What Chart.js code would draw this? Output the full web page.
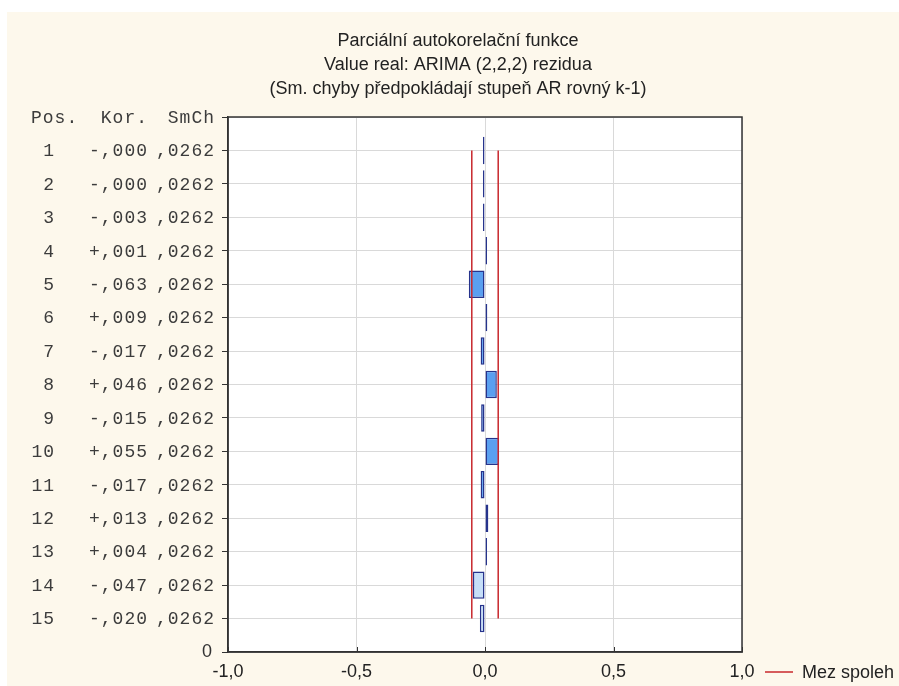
<!DOCTYPE html>
<html>
<head>
<meta charset="utf-8">
<script src="https://cdn.jsdelivr.net/npm/chart.js@4.4.1/dist/chart.umd.min.js"></script>
<style>
	html, body { margin: 0; padding: 0; background: #fff; }
	#wrap { width: 899px; height: 686px; }
</style>
</head>
<body>
<div id="wrap"><canvas id="pacf" width="899" height="686"></canvas></div>
<script>
/*
 * Partial autocorrelation plot (Statistica style) with the lag table
 * drawn to the left of the plot.
 */
(function () {
	'use strict';

	var lags = [1, 2, 3, 4, 5, 6, 7, 8, 9, 10, 11, 12, 13, 14, 15];
	var correlations = [-0.0003, -0.0002, -0.003, 0.001, -0.063, 0.009, -0.017, 0.046, -0.015, 0.055, -0.017, 0.013, 0.004, -0.047, -0.020];
	var stdErrors = [0.0262, 0.0262, 0.0262, 0.0262, 0.0262, 0.0262, 0.0262, 0.0262, 0.0262, 0.0262, 0.0262, 0.0262, 0.0262, 0.0262, 0.0262];
	var confLimit = 0.0514;
	var lightLags = [14, 15];
	var xTicks = [-1, -0.5, 0, 0.5, 1];
	var tableHeaders = ['Pos.', 'Kor.', 'SmCh'];
	var titleLines = [
		'Parciální autokorelační funkce',
		'Value real: ARIMA (2,2,2) rezidua',
		'(Sm. chyby předpokládají stupeň AR rovný k-1)'
	];
	var limitLabel = 'Mez spoleh';

	var SANS = '"Liberation Sans", Arial, sans-serif';
	var MONO = '"Liberation Mono", "Courier New", monospace';
	var CREAM = '#fdf8ec';
	var RED = '#c8282d';

	function decimalComma(v, digits) {
		return v.toFixed(digits).replace('.', ',');
	}

	function formatCorr(v) {
		return (v < 0 ? '-' : '+') + Math.abs(v).toFixed(3).substring(1).replace('.', ',');
	}

	function formatErr(v) {
		return v.toFixed(4).substring(1).replace('.', ',');
	}

	var backdrop = {
		id: 'backdrop',
		beforeDraw: function (chart) {
			var ctx = chart.ctx;
			var a = chart.chartArea;
			ctx.save();
			ctx.fillStyle = '#ffffff';
			ctx.fillRect(0, 0, chart.width, chart.height);
			ctx.fillStyle = CREAM;
			ctx.fillRect(7, 12, chart.width - 7, chart.height - 12);
			ctx.fillStyle = '#ffffff';
			ctx.fillRect(a.left, a.top, a.right - a.left, a.bottom - a.top);
			ctx.restore();
		}
	};

	var decorations = {
		id: 'decorations',
		afterDraw: function (chart) {
			var ctx = chart.ctx;
			var a = chart.chartArea;
			var x = chart.scales.x;
			var y = chart.scales.y;

			ctx.save();

			// frame
			ctx.strokeStyle = '#333333';
			ctx.lineWidth = 1.5;
			ctx.strokeRect(a.left, a.top, a.right - a.left, a.bottom - a.top);

			// inward ticks on x axis
			ctx.lineWidth = 1;
			xTicks.forEach(function (v) {
				var px = Math.round(x.getPixelForValue(v)) + 0.5;
				ctx.beginPath();
				ctx.moveTo(px, a.bottom);
				ctx.lineTo(px, a.bottom - 5);
				ctx.stroke();
			});

			// title
			ctx.fillStyle = '#222222';
			ctx.font = '18px ' + SANS;
			ctx.textAlign = 'center';
			ctx.textBaseline = 'alphabetic';
			titleLines.forEach(function (line, i) {
				ctx.fillText(line, 458, 46 + i * 24);
			});

			// table of lags
			ctx.font = '18px ' + MONO;
			ctx.letterSpacing = '1px';
			ctx.fillStyle = '#3c3c3c';
			ctx.textBaseline = 'middle';
			var top = y.getPixelForValue(0) + 1;
			ctx.textAlign = 'left';
			ctx.fillText(tableHeaders[0], 31, top);
			ctx.textAlign = 'right';
			ctx.fillText(tableHeaders[1], 148, top);
			ctx.fillText(tableHeaders[2], 215, top);
			lags.forEach(function (lag, i) {
				var py = y.getPixelForValue(lag) + 1;
				ctx.fillText(String(lag), 55, py);
				ctx.fillText(formatCorr(correlations[i]), 148, py);
				ctx.fillText(formatErr(stdErrors[i]), 215, py);
			});
			ctx.letterSpacing = '0px';

			// legend
			var ly = 672;
			ctx.strokeStyle = RED;
			ctx.lineWidth = 1.5;
			ctx.beginPath();
			ctx.moveTo(765, ly);
			ctx.lineTo(793, ly);
			ctx.stroke();
			ctx.fillStyle = '#222222';
			ctx.font = '18px ' + SANS;
			ctx.textAlign = 'left';
			ctx.textBaseline = 'middle';
			ctx.fillText(limitLabel, 802, ly + 1);

			ctx.restore();
		}
	};

	var barData = lags.map(function (lag, i) {
		return { x: correlations[i], y: lag };
	});
	var upperData = lags.map(function (lag) {
		return { x: confLimit, y: lag };
	});
	var lowerData = lags.map(function (lag) {
		return { x: -confLimit, y: lag };
	});

	new Chart(document.getElementById('pacf'), {
		type: 'bar',
		data: {
			datasets: [{
				type: 'bar',
				label: 'Kor.',
				data: barData,
				order: 2,
				backgroundColor: function (c) {
					return lightLags.indexOf(lags[c.dataIndex]) >= 0 ? '#c6def8' : '#5a9ff0';
				},
				borderColor: '#26338c',
				borderWidth: 1.5,
				borderSkipped: false,
				minBarLength: 2,
				barPercentage: 1,
				categoryPercentage: 0.82
			}, {
				type: 'line',
				label: limitLabel,
				data: upperData,
				order: 1,
				borderColor: RED,
				borderWidth: 1.5,
				pointRadius: 0,
				fill: false,
				tension: 0
			}, {
				type: 'line',
				label: limitLabel,
				data: lowerData,
				order: 1,
				borderColor: RED,
				borderWidth: 1.5,
				pointRadius: 0,
				fill: false,
				tension: 0
			}]
		},
		options: {
			indexAxis: 'y',
			responsive: false,
			animation: false,
			devicePixelRatio: 1,
			layout: {
				padding: { top: 117, right: 157, bottom: 0, left: 0 }
			},
			plugins: {
				legend: { display: false },
				title: { display: false },
				tooltip: { enabled: false }
			},
			scales: {
				x: {
					type: 'linear',
					min: -1,
					max: 1,
					afterBuildTicks: function (scale) {
						scale.ticks = xTicks.map(function (v) { return { value: v }; });
					},
					afterFit: function (scale) {
						scale.height = 34;
					},
					ticks: {
						padding: 9,
						color: '#222222',
						font: { family: SANS, size: 18 },
						maxRotation: 0,
						callback: function (value) {
							return decimalComma(value, 1);
						}
					},
					grid: {
						color: '#d9d9d9',
						drawTicks: false
					},
					border: { color: '#333333', width: 1.5 }
				},
				y: {
					type: 'linear',
					reverse: true,
					offset: false,
					min: 0,
					max: 16,
					afterFit: function (scale) {
						scale.width = 228;
					},
					ticks: {
						stepSize: 1,
						autoSkip: false,
						padding: 10,
						color: '#333333',
						font: { family: SANS, size: 18 },
						callback: function (value) {
							return value === 16 ? '0' : '';
						}
					},
					grid: {
						offset: false,
						color: '#d9d9d9',
						tickColor: '#333333',
						tickLength: 6,
						drawTicks: true
					},
					border: { color: '#333333', width: 1.5 }
				}
			}
		},
		plugins: [backdrop, decorations]
	});
})();
</script>
</body>
</html>
